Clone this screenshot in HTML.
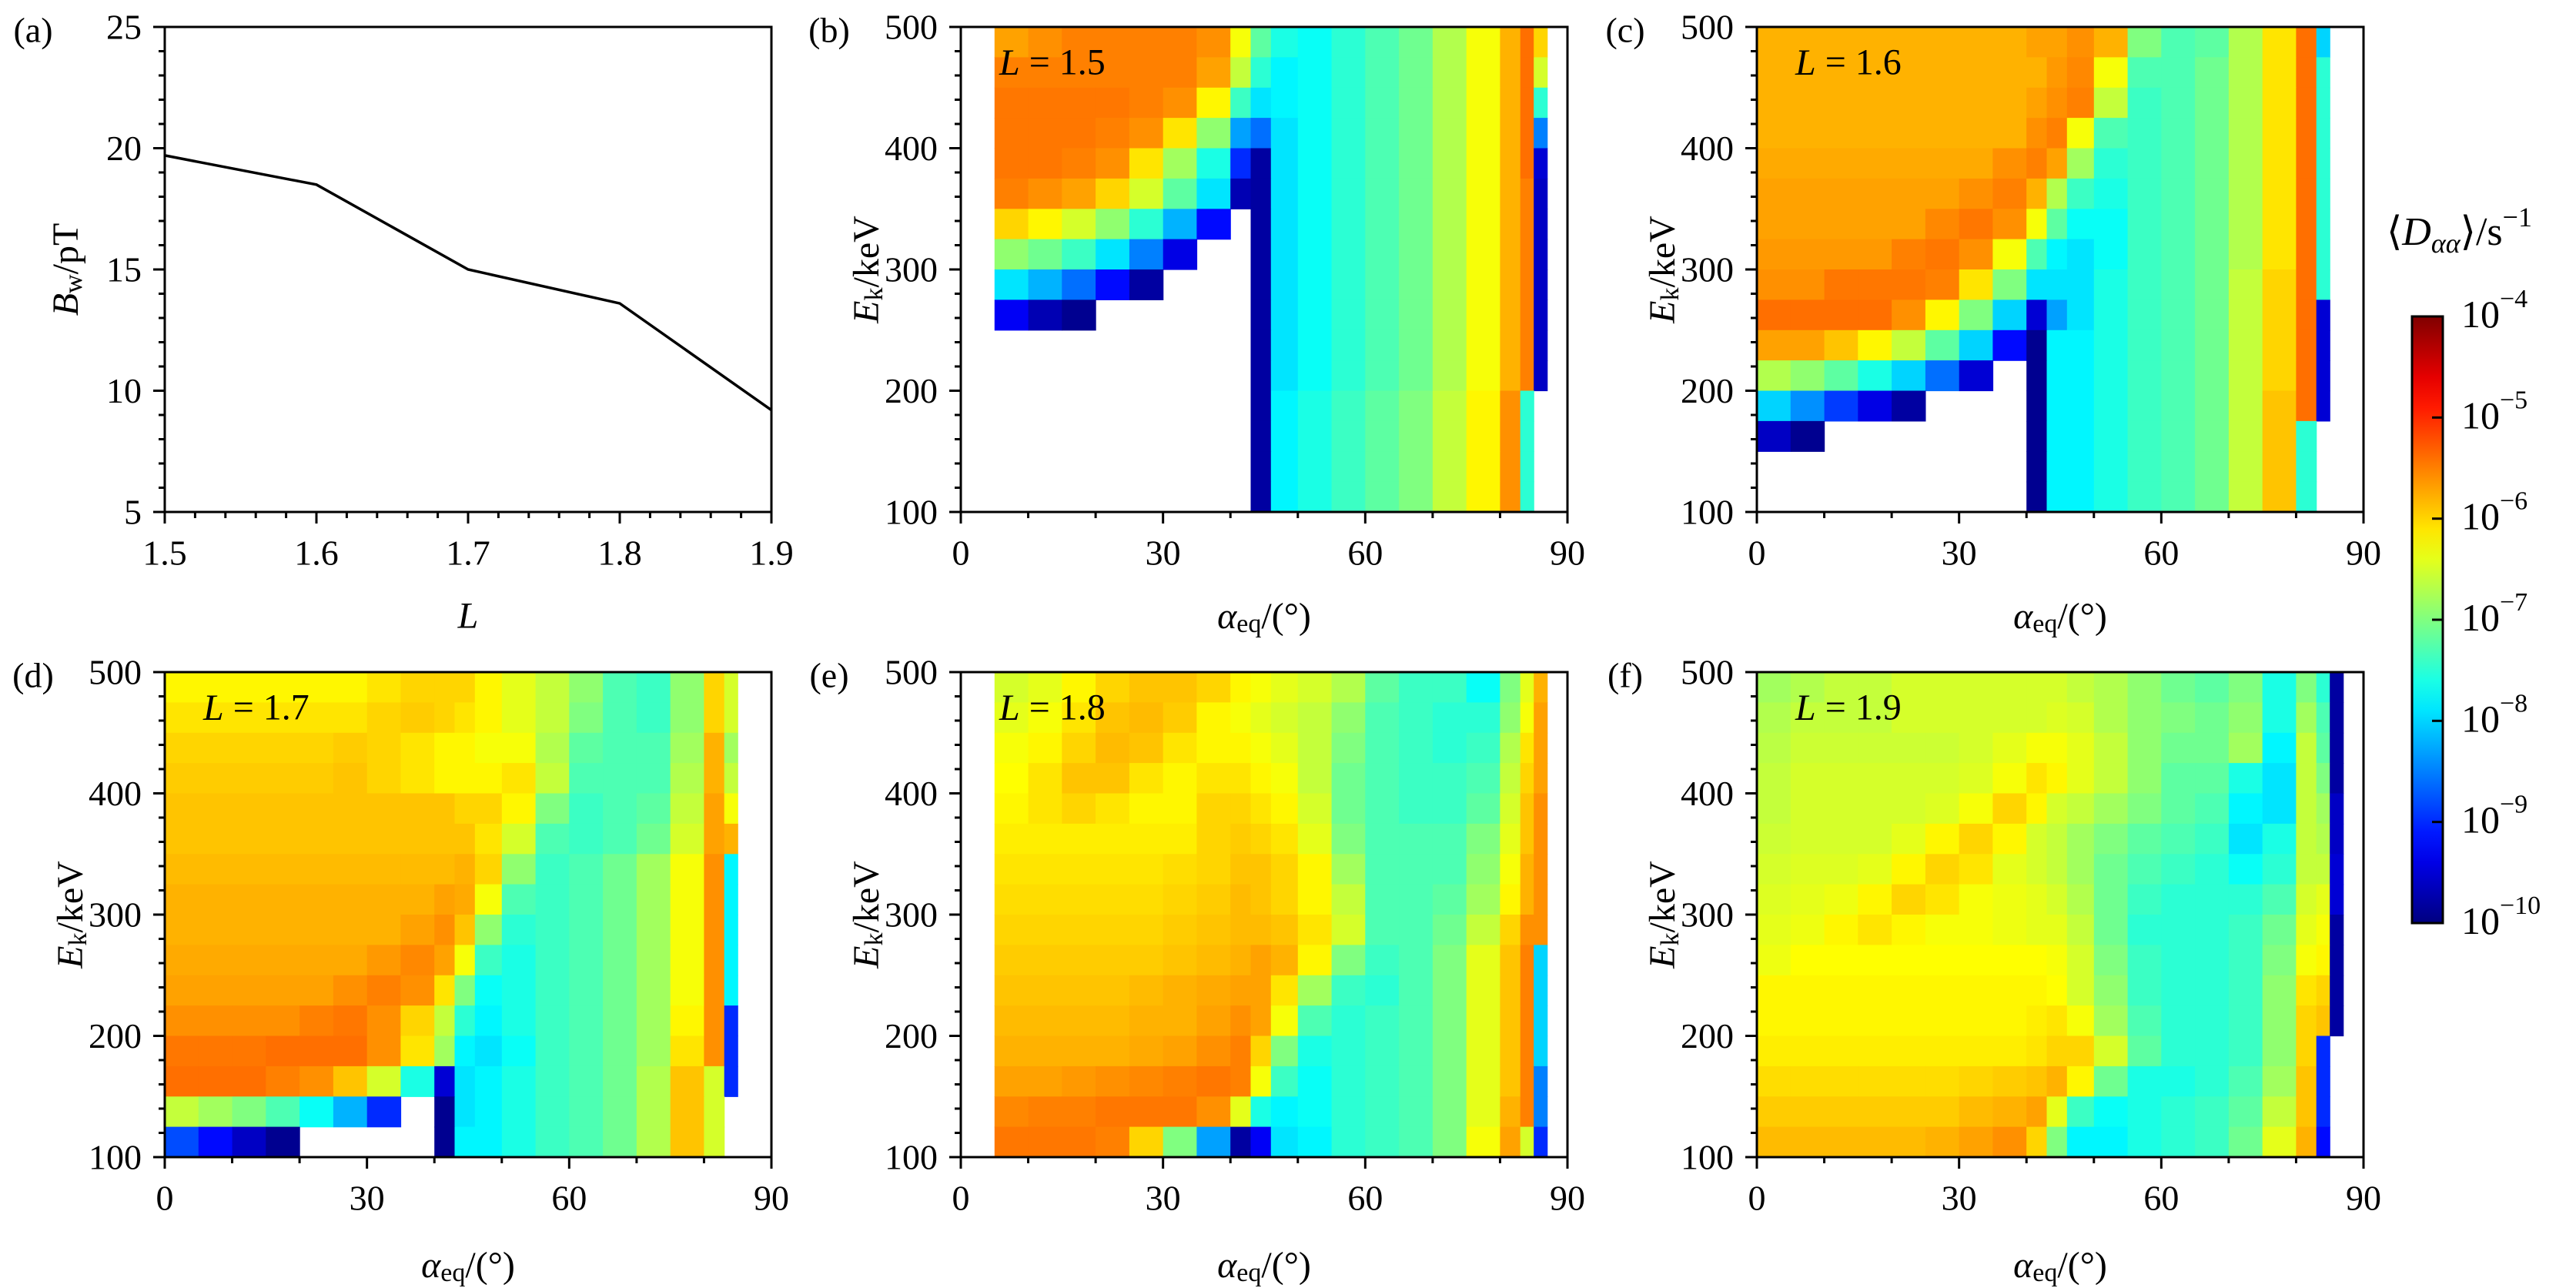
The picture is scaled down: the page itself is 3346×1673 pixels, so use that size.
<!DOCTYPE html>
<html><head><meta charset="utf-8"><style>
html,body{margin:0;padding:0;background:#fff;}
svg{display:block;font-family:"Liberation Serif",serif;}
</style></head><body>
<svg id="fig" width="3346" height="1673" viewBox="0 0 3346 1673" xmlns="http://www.w3.org/2000/svg">
<defs><linearGradient id="jetgrad" x1="0" y1="1" x2="0" y2="0"></linearGradient></defs>
<g id="layer"></g>
</svg>
<script>
// ---- panel (a) data ----
const lValues = [1.5, 1.6, 1.7, 1.8, 1.9];
const bwValues = [19.7, 18.5, 15.0, 13.6, 9.2];
const aTicksX = [1.5, 1.6, 1.7, 1.8, 1.9];
const aTicksY = [5, 10, 15, 20, 25];
// ---- heatmap axes ----
const alphaEdges = [0,5,10,15,20,25,30,35,40,43,46,50,55,60,65,70,75,80,83,85,87,90];
const energyEdges = [500,475,450,425,400,375,350,325,300,275,250,225,200,175,150,125,100];
const hmTicksX = [0, 30, 60, 90];
const hmTicksY = [100, 200, 300, 400, 500];
const cbTicks = [-4, -5, -6, -7, -8, -9, -10];
const X = null;
// log10 <Daa> per cell, rows from 500 keV down to 100 keV
const gridL15 = [
[X,-5.7,-5.6,-5.5,-5.5,-5.5,-5.5,-5.6,-6.3,-7.2,-7.6,-7.7,-7.5,-7.3,-7.1,-6.7,-6.3,-5.8,-5.4,-6.0,X],
[X,-5.5,-5.5,-5.5,-5.5,-5.5,-5.5,-5.7,-6.6,-7.5,-7.8,-7.7,-7.5,-7.3,-7.1,-6.7,-6.3,-5.8,-5.4,-6.5,X],
[X,-5.45,-5.45,-5.45,-5.45,-5.5,-5.6,-6.2,-7.4,-7.9,-7.8,-7.7,-7.5,-7.3,-7.1,-6.7,-6.3,-5.8,-5.4,-7.5,X],
[X,-5.45,-5.45,-5.45,-5.5,-5.6,-6.1,-6.9,-8.3,-8.6,-7.9,-7.7,-7.5,-7.3,-7.1,-6.7,-6.3,-5.8,-5.4,-8.5,X],
[X,-5.45,-5.45,-5.5,-5.6,-6.1,-6.8,-7.6,-9.0,-9.8,-7.9,-7.7,-7.5,-7.3,-7.1,-6.7,-6.3,-5.8,-5.4,-9.5,X],
[X,-5.5,-5.6,-5.7,-6.0,-6.5,-7.2,-7.9,-9.7,-9.8,-7.9,-7.7,-7.5,-7.3,-7.1,-6.7,-6.3,-5.8,-5.5,-9.6,X],
[X,-6.0,-6.2,-6.5,-6.9,-7.5,-8.2,-9.2,X,-9.8,-7.9,-7.7,-7.5,-7.3,-7.1,-6.7,-6.3,-5.8,-5.5,-9.6,X],
[X,-6.9,-7.1,-7.4,-7.9,-8.5,-9.4,X,X,-9.8,-7.9,-7.7,-7.5,-7.3,-7.1,-6.7,-6.3,-5.8,-5.5,-9.6,X],
[X,-7.9,-8.2,-8.6,-9.2,-9.8,X,X,X,-9.8,-7.9,-7.7,-7.5,-7.3,-7.1,-6.7,-6.3,-5.8,-5.5,-9.6,X],
[X,-9.3,-9.7,-9.9,X,X,X,X,X,-9.8,-7.9,-7.7,-7.5,-7.3,-7.1,-6.7,-6.3,-5.8,-5.5,-9.6,X],
[X,X,X,X,X,X,X,X,X,-9.8,-7.9,-7.7,-7.5,-7.3,-7.1,-6.7,-6.3,-5.8,-5.5,-9.6,X],
[X,X,X,X,X,X,X,X,X,-9.8,-7.9,-7.7,-7.5,-7.3,-7.1,-6.7,-6.3,-5.8,-5.5,-9.6,X],
[X,X,X,X,X,X,X,X,X,-9.8,-7.8,-7.6,-7.4,-7.2,-7.0,-6.6,-6.2,-5.6,-7.5,X,X],
[X,X,X,X,X,X,X,X,X,-9.8,-7.8,-7.6,-7.4,-7.2,-7.0,-6.6,-6.2,-5.6,-7.5,X,X],
[X,X,X,X,X,X,X,X,X,-9.8,-7.8,-7.6,-7.4,-7.2,-7.0,-6.6,-6.2,-5.6,-7.5,X,X],
[X,X,X,X,X,X,X,X,X,-9.8,-7.8,-7.6,-7.4,-7.2,-7.0,-6.6,-6.2,-5.6,-7.5,X,X]];
const gridL16 = [
[-5.8,-5.8,-5.8,-5.8,-5.8,-5.8,-5.8,-5.8,-5.7,-5.7,-5.6,-5.8,-7.0,-7.3,-7.2,-6.7,-6.1,-5.4,-8.0,X,X],
[-5.8,-5.8,-5.8,-5.8,-5.8,-5.8,-5.8,-5.8,-5.8,-5.65,-5.55,-6.3,-7.3,-7.3,-7.1,-6.7,-6.1,-5.4,-7.5,X,X],
[-5.8,-5.8,-5.8,-5.8,-5.8,-5.8,-5.8,-5.8,-5.7,-5.6,-5.5,-6.6,-7.4,-7.3,-7.1,-6.7,-6.1,-5.4,-7.5,X,X],
[-5.8,-5.8,-5.8,-5.8,-5.8,-5.8,-5.8,-5.8,-5.6,-5.5,-6.3,-7.3,-7.4,-7.3,-7.1,-6.7,-6.1,-5.4,-7.5,X,X],
[-5.75,-5.75,-5.75,-5.75,-5.75,-5.75,-5.75,-5.6,-5.5,-5.7,-6.8,-7.5,-7.4,-7.3,-7.1,-6.7,-6.1,-5.4,-7.5,X,X],
[-5.7,-5.7,-5.7,-5.7,-5.7,-5.7,-5.6,-5.5,-5.8,-6.7,-7.4,-7.6,-7.4,-7.3,-7.1,-6.7,-6.1,-5.4,-7.5,X,X],
[-5.7,-5.7,-5.7,-5.7,-5.7,-5.55,-5.45,-5.6,-6.3,-7.2,-7.7,-7.7,-7.4,-7.3,-7.1,-6.7,-6.1,-5.4,-7.5,X,X],
[-5.65,-5.65,-5.65,-5.65,-5.5,-5.45,-5.6,-6.3,-7.3,-7.8,-7.9,-7.7,-7.4,-7.3,-7.1,-6.7,-6.1,-5.4,-7.5,X,X],
[-5.6,-5.6,-5.45,-5.45,-5.45,-5.5,-6.1,-7.0,-7.9,-7.9,-7.9,-7.6,-7.4,-7.3,-7.1,-6.6,-6.0,-5.4,-7.5,X,X],
[-5.4,-5.4,-5.4,-5.4,-5.6,-6.2,-7.0,-8.0,-9.5,-8.3,-7.9,-7.6,-7.4,-7.3,-7.1,-6.6,-6.0,-5.4,-9.5,X,X],
[-5.7,-5.7,-5.9,-6.2,-6.6,-7.2,-8.0,-9.2,-9.9,-7.8,-7.8,-7.6,-7.4,-7.3,-7.1,-6.6,-6.0,-5.4,-9.5,X,X],
[-6.7,-6.9,-7.2,-7.6,-8.0,-8.6,-9.5,X,-9.9,-7.8,-7.8,-7.6,-7.4,-7.3,-7.1,-6.6,-6.0,-5.4,-9.5,X,X],
[-8.0,-8.4,-8.9,-9.4,-9.8,X,X,X,-9.9,-7.8,-7.8,-7.6,-7.4,-7.3,-7.1,-6.6,-5.9,-5.4,-9.5,X,X],
[-9.6,-9.9,X,X,X,X,X,X,-9.9,-7.8,-7.8,-7.6,-7.4,-7.3,-7.1,-6.6,-5.9,-7.5,X,X,X],
[X,X,X,X,X,X,X,X,-9.9,-7.8,-7.8,-7.6,-7.4,-7.3,-7.1,-6.6,-5.9,-7.5,X,X,X],
[X,X,X,X,X,X,X,X,-9.9,-7.8,-7.8,-7.6,-7.4,-7.3,-7.1,-6.6,-5.9,-7.5,X,X,X]];
const gridL17 = [
[-6.2,-6.2,-6.2,-6.2,-6.2,-6.2,-6.1,-6.0,-6.0,-6.0,-6.2,-6.4,-6.6,-6.9,-7.3,-7.4,-6.9,-6.0,-6.5,X,X],
[-6.1,-6.1,-6.1,-6.1,-6.1,-6.1,-6.0,-5.95,-6.0,-6.1,-6.2,-6.4,-6.6,-7.0,-7.3,-7.4,-6.9,-6.0,-6.5,X,X],
[-6.0,-6.0,-6.0,-6.0,-6.0,-5.95,-6.0,-6.1,-6.2,-6.2,-6.3,-6.3,-6.7,-7.2,-7.3,-7.3,-6.8,-5.8,-6.8,X,X],
[-5.95,-5.95,-5.95,-5.95,-5.95,-5.9,-6.0,-6.1,-6.2,-6.2,-6.2,-6.1,-6.6,-7.3,-7.3,-7.3,-6.7,-5.8,-6.6,X,X],
[-5.9,-5.9,-5.9,-5.9,-5.9,-5.9,-5.9,-5.9,-5.9,-6.0,-6.0,-6.2,-7.0,-7.4,-7.3,-7.2,-6.6,-5.7,-6.3,X,X],
[-5.9,-5.9,-5.9,-5.9,-5.9,-5.9,-5.9,-5.9,-5.9,-5.9,-6.1,-6.5,-7.3,-7.4,-7.3,-7.1,-6.5,-5.7,-5.8,X,X],
[-5.85,-5.85,-5.85,-5.85,-5.85,-5.85,-5.85,-5.85,-5.85,-5.8,-6.0,-6.9,-7.4,-7.3,-7.1,-6.8,-6.3,-5.6,-7.8,X,X],
[-5.8,-5.8,-5.8,-5.8,-5.8,-5.8,-5.8,-5.8,-5.7,-5.75,-6.3,-7.3,-7.4,-7.3,-7.1,-6.8,-6.3,-5.6,-7.8,X,X],
[-5.8,-5.8,-5.8,-5.8,-5.8,-5.8,-5.8,-5.7,-5.6,-5.9,-6.9,-7.5,-7.4,-7.3,-7.1,-6.8,-6.3,-5.6,-7.8,X,X],
[-5.75,-5.75,-5.75,-5.75,-5.75,-5.75,-5.65,-5.55,-5.7,-6.3,-7.4,-7.6,-7.4,-7.3,-7.1,-6.8,-6.3,-5.6,-7.8,X,X],
[-5.7,-5.7,-5.7,-5.7,-5.7,-5.6,-5.5,-5.6,-6.1,-7.0,-7.7,-7.6,-7.4,-7.3,-7.1,-6.8,-6.3,-5.6,-7.8,X,X],
[-5.6,-5.6,-5.6,-5.6,-5.5,-5.45,-5.6,-6.0,-6.6,-7.5,-7.8,-7.6,-7.4,-7.3,-7.1,-6.8,-6.2,-5.6,-9.0,X,X],
[-5.45,-5.45,-5.45,-5.4,-5.4,-5.4,-5.6,-6.1,-6.8,-7.8,-7.9,-7.7,-7.4,-7.3,-7.1,-6.8,-6.1,-5.6,-9.0,X,X],
[-5.4,-5.4,-5.4,-5.5,-5.6,-5.9,-6.5,-7.6,-9.5,-7.9,-7.8,-7.6,-7.4,-7.3,-7.1,-6.7,-5.9,-6.5,-9.0,X,X],
[-6.6,-6.8,-7.0,-7.3,-7.7,-8.2,-9.0,X,-9.9,-7.9,-7.8,-7.6,-7.4,-7.3,-7.1,-6.7,-5.9,-6.5,X,X,X],
[-8.8,-9.2,-9.6,-9.9,X,X,X,X,-9.9,-7.8,-7.8,-7.6,-7.4,-7.3,-7.1,-6.7,-5.9,-6.5,X,X,X]];
const gridL18 = [
[X,-6.5,-6.4,-6.2,-6.0,-5.9,-5.9,-6.0,-6.2,-6.3,-6.4,-6.5,-6.7,-7.2,-7.4,-7.4,-7.7,-7.0,-6.4,-5.8,X],
[X,-6.4,-6.3,-6.1,-5.9,-5.85,-5.95,-6.2,-6.3,-6.4,-6.5,-6.6,-6.9,-7.3,-7.4,-7.5,-7.5,-6.9,-6.3,-5.7,X],
[X,-6.3,-6.2,-6.0,-5.85,-5.9,-6.1,-6.2,-6.2,-6.3,-6.4,-6.6,-7.0,-7.3,-7.4,-7.5,-7.4,-6.7,-6.1,-5.7,X],
[X,-6.25,-6.1,-5.9,-5.9,-6.1,-6.2,-6.1,-6.1,-6.2,-6.3,-6.6,-7.1,-7.3,-7.4,-7.4,-7.3,-6.6,-6.0,-5.7,X],
[X,-6.2,-6.1,-6.0,-6.1,-6.2,-6.2,-6.0,-6.0,-6.1,-6.2,-6.5,-7.1,-7.3,-7.4,-7.4,-7.2,-6.5,-5.9,-5.6,X],
[X,-6.15,-6.15,-6.15,-6.15,-6.15,-6.15,-6.0,-5.95,-6.0,-6.1,-6.4,-7.0,-7.3,-7.3,-7.3,-7.0,-6.4,-5.9,-5.6,X],
[X,-6.1,-6.1,-6.1,-6.1,-6.1,-6.05,-6.0,-5.9,-5.9,-6.0,-6.2,-6.8,-7.3,-7.3,-7.3,-6.9,-6.3,-5.8,-5.6,X],
[X,-6.05,-6.05,-6.05,-6.05,-6.05,-6.0,-5.95,-5.85,-5.9,-6.0,-6.2,-6.6,-7.3,-7.3,-7.2,-6.8,-6.2,-5.8,-5.6,X],
[X,-6.0,-6.0,-6.0,-6.0,-6.0,-5.95,-5.9,-5.85,-5.85,-5.9,-6.1,-6.5,-7.3,-7.3,-7.1,-6.6,-6.0,-5.6,-5.6,X],
[X,-5.95,-5.95,-5.95,-5.95,-5.95,-5.9,-5.85,-5.8,-5.7,-5.8,-6.2,-7.0,-7.4,-7.3,-7.0,-6.4,-5.9,-5.5,-8.0,X],
[X,-5.9,-5.9,-5.9,-5.9,-5.85,-5.8,-5.75,-5.7,-5.7,-6.1,-6.8,-7.4,-7.5,-7.3,-7.0,-6.4,-5.9,-5.5,-8.0,X],
[X,-5.85,-5.85,-5.85,-5.85,-5.8,-5.8,-5.7,-5.6,-5.7,-6.3,-7.3,-7.5,-7.4,-7.3,-7.0,-6.4,-5.9,-5.5,-8.0,X],
[X,-5.8,-5.8,-5.8,-5.8,-5.75,-5.7,-5.6,-5.5,-6.0,-7.0,-7.6,-7.5,-7.4,-7.3,-7.0,-6.4,-5.9,-5.5,-8.0,X],
[X,-5.7,-5.7,-5.65,-5.6,-5.55,-5.5,-5.45,-5.5,-6.3,-7.4,-7.7,-7.5,-7.4,-7.3,-7.0,-6.4,-5.9,-5.5,-8.5,X],
[X,-5.55,-5.5,-5.5,-5.45,-5.45,-5.45,-5.6,-6.4,-7.6,-7.8,-7.7,-7.5,-7.4,-7.3,-7.0,-6.4,-5.8,-5.5,-8.5,X],
[X,-5.45,-5.45,-5.45,-5.5,-6.0,-7.0,-8.3,-9.8,-9.3,-7.9,-7.8,-7.5,-7.4,-7.3,-7.0,-6.3,-5.7,-6.5,-9.0,X]];
const gridL19 = [
[-6.8,-6.7,-6.6,-6.6,-6.5,-6.5,-6.5,-6.5,-6.5,-6.5,-6.6,-6.7,-6.9,-7.1,-7.2,-7.0,-7.6,-7.0,-7.5,-9.8,X],
[-6.7,-6.6,-6.6,-6.6,-6.5,-6.5,-6.5,-6.5,-6.5,-6.45,-6.5,-6.7,-6.9,-7.0,-7.1,-6.9,-7.6,-6.8,-7.3,-9.8,X],
[-6.65,-6.55,-6.55,-6.55,-6.55,-6.55,-6.5,-6.4,-6.3,-6.3,-6.4,-6.6,-6.9,-7.1,-7.1,-6.8,-7.8,-6.6,-7.2,-9.8,X],
[-6.6,-6.5,-6.5,-6.5,-6.5,-6.5,-6.45,-6.3,-6.1,-6.2,-6.4,-6.6,-6.9,-7.2,-7.2,-7.6,-7.9,-6.6,-7.0,-9.8,X],
[-6.6,-6.5,-6.5,-6.5,-6.5,-6.45,-6.3,-6.0,-6.2,-6.5,-6.6,-6.8,-7.0,-7.2,-7.3,-7.8,-7.9,-6.6,-6.8,-9.6,X],
[-6.55,-6.5,-6.5,-6.5,-6.4,-6.2,-6.0,-6.2,-6.5,-6.6,-6.8,-7.0,-7.2,-7.3,-7.4,-7.9,-7.6,-6.6,-6.7,-9.6,X],
[-6.5,-6.45,-6.45,-6.4,-6.2,-6.0,-6.1,-6.4,-6.5,-6.6,-6.8,-7.1,-7.3,-7.4,-7.5,-7.7,-7.5,-6.6,-6.6,-9.5,X],
[-6.45,-6.4,-6.35,-6.2,-6.0,-6.1,-6.3,-6.35,-6.4,-6.5,-6.7,-7.1,-7.4,-7.5,-7.5,-7.5,-7.3,-6.5,-6.4,-9.5,X],
[-6.4,-6.35,-6.2,-6.1,-6.2,-6.3,-6.3,-6.35,-6.4,-6.4,-6.6,-7.1,-7.5,-7.5,-7.5,-7.4,-7.1,-6.4,-6.3,-9.8,X],
[-6.35,-6.25,-6.25,-6.25,-6.25,-6.25,-6.25,-6.25,-6.25,-6.3,-6.5,-7.0,-7.4,-7.5,-7.5,-7.4,-7.0,-6.3,-6.2,-9.8,X],
[-6.2,-6.2,-6.2,-6.2,-6.2,-6.2,-6.2,-6.2,-6.2,-6.25,-6.5,-6.9,-7.4,-7.5,-7.5,-7.4,-6.9,-6.1,-6.0,-9.8,X],
[-6.2,-6.2,-6.2,-6.2,-6.2,-6.2,-6.2,-6.2,-6.15,-6.1,-6.3,-6.8,-7.3,-7.5,-7.5,-7.4,-6.9,-6.0,-5.9,-9.8,X],
[-6.15,-6.15,-6.15,-6.15,-6.15,-6.15,-6.15,-6.15,-6.1,-6.0,-6.0,-6.5,-7.2,-7.5,-7.5,-7.4,-6.9,-6.0,-9.0,X,X],
[-6.05,-6.05,-6.05,-6.05,-6.05,-6.05,-6.0,-5.95,-5.9,-5.8,-6.2,-7.1,-7.6,-7.6,-7.5,-7.3,-6.8,-5.9,-9.0,X,X],
[-5.95,-5.95,-5.95,-5.95,-5.95,-5.95,-5.85,-5.8,-5.7,-6.4,-7.4,-7.7,-7.6,-7.5,-7.4,-7.2,-6.6,-5.9,-9.0,X,X],
[-5.85,-5.85,-5.85,-5.85,-5.85,-5.8,-5.7,-5.6,-6.0,-7.0,-7.8,-7.8,-7.6,-7.5,-7.4,-7.1,-6.4,-5.8,-9.2,X,X]];
const panelLValues = ["1.5", "1.6", "1.7", "1.8", "1.9"];

const NS = "http://www.w3.org/2000/svg";
const layer = document.getElementById("layer");
function mk(tag, attrs, parent) {
  const el = document.createElementNS(NS, tag);
  for (const k in attrs) el.setAttribute(k, attrs[k]);
  (parent || layer).appendChild(el);
  return el;
}
function clamp(v) { return Math.max(0, Math.min(1, v)); }
function jet(t) {
  const r = clamp(Math.min(4 * t - 1.5, -4 * t + 4.5));
  const g = clamp(Math.min(4 * t - 0.5, -4 * t + 3.5));
  const b = clamp(Math.min(4 * t + 0.5, -4 * t + 2.5));
  return "rgb(" + Math.round(r * 255) + "," + Math.round(g * 255) + "," + Math.round(b * 255) + ")";
}
function colorOf(v) { return jet((v + 10) / 6); }
const FS = 46;

function frame(g, x0, y0, w, h) {
  const r = mk("rect", {x: x0, y: y0, width: w, height: h, fill: "none", stroke: "#000", "stroke-width": 3}, g);
  
  
}
function tickLine(g, x1, y1, x2, y2) {
  const t = mk("line", {x1: x1, y1: y1, x2: x2, y2: y2, stroke: "#000", "stroke-width": 3}, g);
  
  
}
function label(g, x, y, txt, anchor, name, size) {
  const t = mk("text", {x: x, y: y, "text-anchor": anchor || "middle", "dominant-baseline": "central", "font-size": size || FS}, g);
  t.textContent = txt;
  
  
  return t;
}

// ---- panel a ----
(function () {
  const x0 = 214, y0 = 35, w = 788, h = 630;
  const g = mk("g", {});
  
  
  const xs = v => x0 + (v - 1.5) / 0.4 * w;
  const ys = v => y0 + h - (v - 5) / 20 * h;
  let d = "";
  lValues.forEach((l, i) => { d += (i ? "L" : "M") + xs(l).toFixed(1) + " " + ys(bwValues[i]).toFixed(1); });
  const p = mk("path", {d: d, fill: "none", stroke: "#000", "stroke-width": 3.5}, g);
  
  
  frame(g, x0, y0, w, h);
  for (let v = 5; v <= 25; v += 1) {
    const major = v % 5 === 0;
    tickLine(g, x0 - (major ? 15 : 8), ys(v), x0, ys(v));
  }
  for (let k = 0; k <= 20; k++) {
    const v = 1.5 + k * 0.02;
    const major = k % 5 === 0;
    tickLine(g, xs(v), y0 + h, xs(v), y0 + h + (major ? 15 : 8));
  }
  aTicksY.forEach(v => label(g, x0 - 30, ys(v), String(v), "end", "y-tick-label"));
  aTicksX.forEach(v => label(g, xs(v), y0 + h + 53, v.toFixed(1), "middle", "x-tick-label"));
  const yt = mk("text", {x: 0, y: 0, "text-anchor": "middle", "dominant-baseline": "central", "font-size": 48, transform: "translate(85," + (y0 + h / 2) + ") rotate(-90)"}, g);
  yt.innerHTML = '<tspan font-style="italic">B</tspan><tspan font-size="34" dy="10">w</tspan><tspan dy="-10">/pT</tspan>';
  
  
  const xt = label(g, x0 + w / 2, y0 + h + 135, "L", "middle", "x-axis-title", 48);
  xt.setAttribute("font-style", "italic");
  label(g, 43, y0 + 4, "(a)", "middle", "panel-label", 46);
})();

// ---- heatmap panels ----
const panels = [
  {grid: gridL15, x0: 1248, y0: 35, tag: "(b)", L: panelLValues[0]},
  {grid: gridL16, x0: 2282, y0: 35, tag: "(c)", L: panelLValues[1]},
  {grid: gridL17, x0: 214, y0: 873, tag: "(d)", L: panelLValues[2]},
  {grid: gridL18, x0: 1248, y0: 873, tag: "(e)", L: panelLValues[3]},
  {grid: gridL19, x0: 2282, y0: 873, tag: "(f)", L: panelLValues[4]}
];
panels.forEach(P => {
  const w = 788, h = 630, x0 = P.x0, y0 = P.y0;
  const g = mk("g", {});
  
  
  const xs = a => x0 + a / 90 * w;
  const ys = e => y0 + (500 - e) / 400 * h;
  P.grid.forEach((row, i) => {
    row.forEach((v, j) => {
      if (v === null) return;
      const xa = xs(alphaEdges[j]), xb = xs(alphaEdges[j + 1]);
      const ya = ys(energyEdges[i]), yb = ys(energyEdges[i + 1]);
      const c = mk("rect", {x: xa.toFixed(1), y: ya.toFixed(1), width: (xb - xa + 0.6).toFixed(1), height: (yb - ya + 0.6).toFixed(1), fill: colorOf(v)}, g);
      
      
    });
  });
  frame(g, x0, y0, w, h);
  for (let e = 100; e <= 500; e += 20) {
    const major = e % 100 === 0;
    tickLine(g, x0 - (major ? 15 : 8), ys(e), x0, ys(e));
  }
  for (let a = 0; a <= 90; a += 10) {
    const major = a % 30 === 0;
    tickLine(g, xs(a), y0 + h, xs(a), y0 + h + (major ? 15 : 8));
  }
  hmTicksY.forEach(v => label(g, x0 - 30, ys(v), String(v), "end", "y-tick-label"));
  hmTicksX.forEach(v => label(g, xs(v), y0 + h + 53, String(v), "middle", "x-tick-label"));
  const yt = mk("text", {x: 0, y: 0, "text-anchor": "middle", "dominant-baseline": "central", "font-size": 48, transform: "translate(" + (x0 - 123) + "," + (y0 + h / 2) + ") rotate(-90)"}, g);
  yt.innerHTML = '<tspan font-style="italic">E</tspan><tspan font-size="34" dy="10">k</tspan><tspan dy="-10">/keV</tspan>';
  
  
  const xt = mk("text", {x: x0 + w / 2, y: y0 + h + (y0 > 500 ? 140 : 135), "text-anchor": "middle", "dominant-baseline": "central", "font-size": 48}, g);
  xt.innerHTML = '<tspan font-style="italic">α</tspan><tspan font-size="34" dy="10">eq</tspan><tspan dy="-10">/(°)</tspan>';
  
  
  const lt = mk("text", {x: x0 + 50, y: y0 + 46, "dominant-baseline": "central", "font-size": 48}, g);
  lt.innerHTML = '<tspan font-style="italic">L</tspan> = ' + P.L;
  
  
  label(g, x0 - 171, y0 + 4, P.tag, "middle", "panel-label", 46);
});

// ---- colorbar ----
(function () {
  const grad = document.getElementById("jetgrad");
  for (let k = 0; k <= 20; k++) {
    mk("stop", {offset: (k / 20 * 100) + "%", "stop-color": jet(k / 20)}, grad);
  }
  const x0 = 3133, y0 = 411, w = 40, h = 788;
  const g = mk("g", {});
  
  
  const bar = mk("rect", {x: x0, y: y0, width: w, height: h, fill: "url(#jetgrad)", stroke: "#000", "stroke-width": 3}, g);
  
  
  const ys = v => y0 + (-4 - v) / 6 * h;
  cbTicks.forEach(v => {
    if (v !== -4 && v !== -10) tickLine(g, x0 + w - 14, ys(v), x0 + w, ys(v));
    const t = mk("text", {x: x0 + 64, y: ys(v) + 14, "font-size": 50}, g);
    t.innerHTML = '10<tspan font-size="34" dy="-26">−' + (-v) + '</tspan>';
    
    
  });
  const title = mk("text", {x: 3100, y: 318, "font-size": 52}, g);
  title.innerHTML = '⟨<tspan font-style="italic">D</tspan><tspan font-size="36" dy="10" font-style="italic">αα</tspan><tspan dy="-10">⟩/s</tspan><tspan font-size="36" dy="-24">−1</tspan>';
  
  
})();
</script>
</body></html>
